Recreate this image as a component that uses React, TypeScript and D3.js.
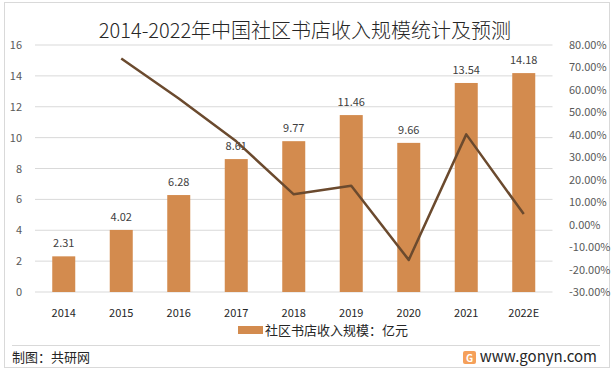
import React from 'react';
import * as d3 from 'd3';

// chart data
const years = ['2014', '2015', '2016', '2017', '2018', '2019', '2020', '2021', '2022E'];
const revenue = [2.31, 4.02, 6.28, 8.61, 9.77, 11.46, 9.66, 13.54, 14.18];
const growthYears = ['2015', '2016', '2017', '2018', '2019', '2020', '2021', '2022E'];
const growth = [0.74, 0.562, 0.371, 0.135, 0.173, -0.157, 0.402, 0.047];
const leftTicks = [0, 2, 4, 6, 8, 10, 12, 14, 16];
const rightTicks = [-0.3, -0.2, -0.1, 0, 0.1, 0.2, 0.3, 0.4, 0.5, 0.6, 0.7, 0.8];

const title = '2014-2022年中国社区书店收入规模统计及预测';
const legendLabel = '社区书店收入规模：亿元';

const font = '"Noto Sans CJK SC", "Noto Sans", sans-serif';
const barColor = '#d38b4e';
const lineColor = '#6b4a2e';
const textColor = '#595959';

function App() {
    const width = 614;
    const height = 370;
    const top = 45;
    const bottom = 292;
    const left = 35;
    const right = 552.5;

    const x = d3.scaleBand().domain(years).range([left, right]).paddingInner(0.6).paddingOuter(0.3);
    const yLeft = d3.scaleLinear().domain([0, 16]).range([bottom, top]);
    const yRight = d3.scaleLinear().domain([-0.3, 0.8]).range([bottom, top]);
    const cx = (d) => x(d) + x.bandwidth() / 2;

    const line = d3.line()
        .x((d, i) => cx(growthYears[i]))
        .y((d) => yRight(d));

    return (
        <svg width={width} height={height}
            style={{ position: 'absolute', left: 0, top: 0, fontFamily: font }}>
            <rect x={4.5} y={2.5} width={605} height={365} fill="#fff" stroke="#d9d9d9" />
            <text x={305} y={38} textAnchor="middle" fontSize={20} fontWeight={300} fill="#262626">{title}</text>

            {leftTicks.map((t) => (
                <g key={'g' + t}>
                    <line x1={left} x2={right} y1={yLeft(t)} y2={yLeft(t)} stroke="#d9d9d9" />
                    <text x={22} y={yLeft(t) + 4} textAnchor="end" fontSize={11} fill={textColor}>{t}</text>
                </g>
            ))}
            {rightTicks.map((t) => (
                <text key={'r' + t} x={569} y={yRight(t) + 4} fontSize={11} fill={textColor}>
                    {(t * 100).toFixed(2) + '%'}
                </text>
            ))}

            {years.map((yr, i) => (
                <g key={yr}>
                    <rect x={x(yr)} y={yLeft(revenue[i])} width={x.bandwidth()}
                        height={bottom - yLeft(revenue[i])} fill={barColor} />
                    <text x={cx(yr)} y={yLeft(revenue[i]) - 9} textAnchor="middle" fontSize={11}
                        fill="#404040">{revenue[i].toFixed(2)}</text>
                    <text x={cx(yr)} y={317} textAnchor="middle" fontSize={11} fill="#262626">{yr}</text>
                </g>
            ))}

            <path d={line(growth)} fill="none" stroke={lineColor} strokeWidth={2.5} strokeLinejoin="round" />

            <rect x={238} y={326} width={25} height={8} fill={barColor} />
            <text x={265} y={335} fontSize={13} fill="#262626">{legendLabel}</text>

            <line x1={12} x2={600} y1={345.5} y2={345.5} stroke="#d9d9d9" />
            <text x={12} y={362} fontSize={13} fill="#262626">制图：共研网</text>
            <rect x={463} y={351} width={13} height={13} rx={2} fill="#f5a05a" />
            <text x={469.5} y={361.5} textAnchor="middle" fontSize={10} fontWeight="bold" fill="#fff">G</text>
            <text x={597} y={362} textAnchor="end" fontSize={15} fill="#262626">www.gonyn.com</text>
        </svg>
    );
}

export default App;
